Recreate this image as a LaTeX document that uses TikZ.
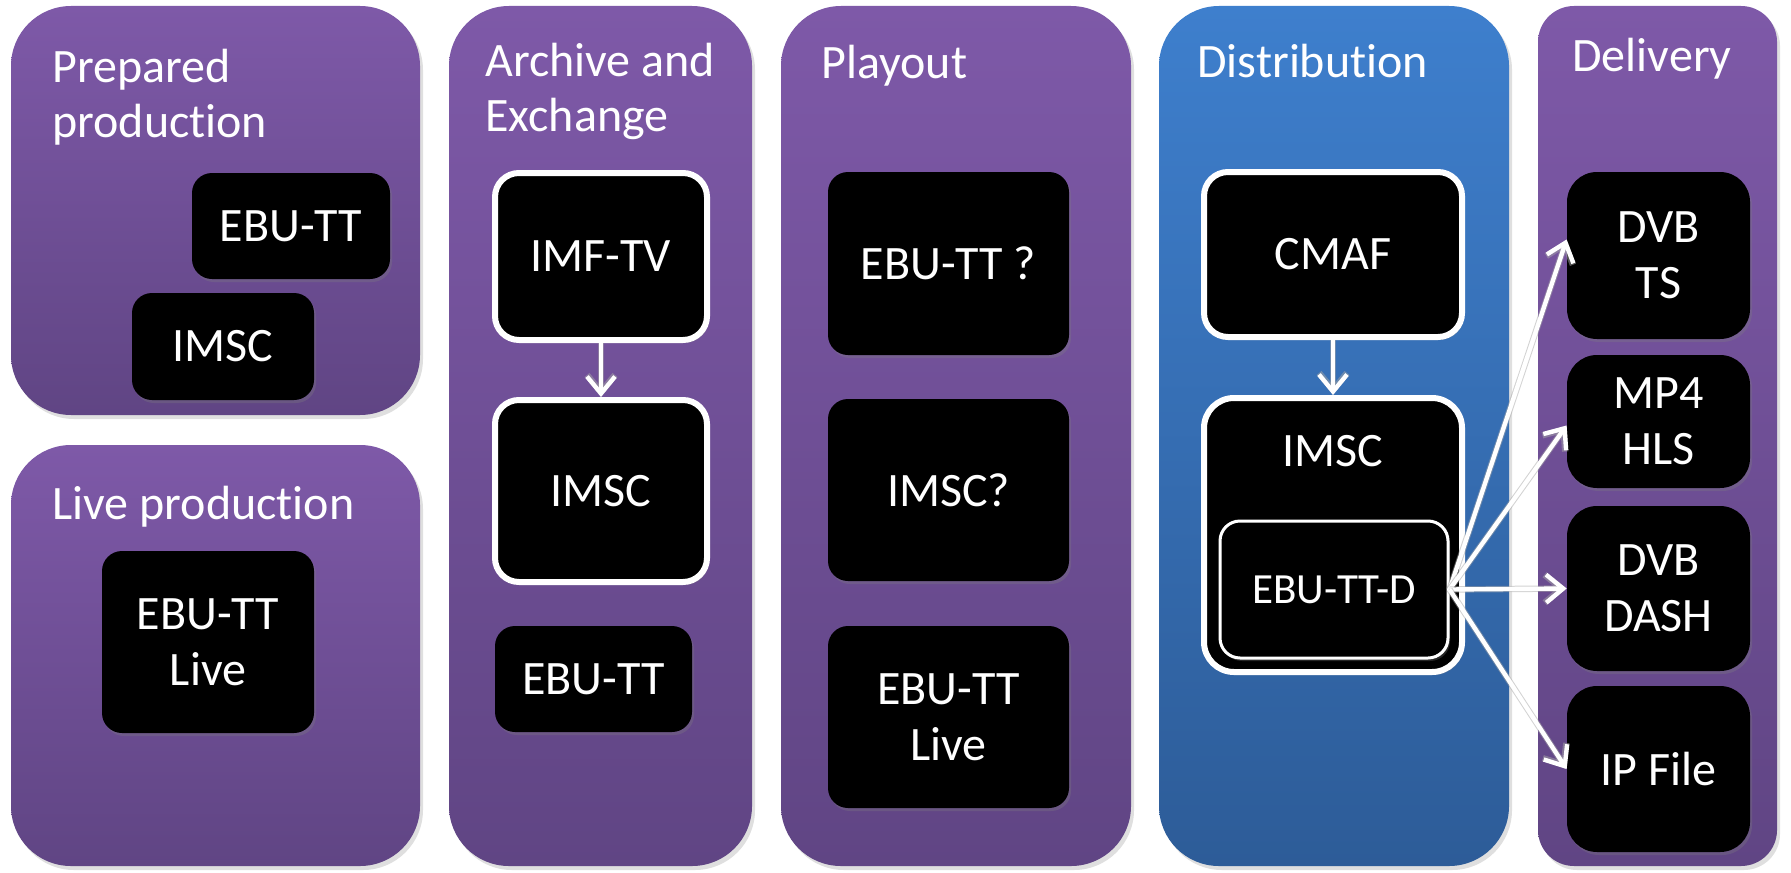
\documentclass[tikz,border=0pt]{standalone}
\usepackage{fontspec}
\setmainfont{Carlito}[Ligatures={NoCommon,NoContextual}, Contextuals=NoAlternate]
\usetikzlibrary{shadows,arrows.meta}
\definecolor{pTop}{RGB}{126,89,168}
\definecolor{pBot}{RGB}{96,69,132}
\definecolor{bTop}{RGB}{62,127,205}
\definecolor{bBot}{RGB}{45,92,152}
\newcommand{\nolig}{\kern0pt }
\tikzset{
  corners/.style n args={4}{minimum width={(#3-#1)*0.5pt}, minimum height={(#4-#2)*0.5pt},
    at={({(#1+#3)/2},{(#2+#4)/2})}, anchor=center},
  panel/.style={inner sep=0pt, rounded corners=30pt, top color=pTop, bottom color=pBot, draw=none,
    drop shadow={opacity=0.25, shadow xshift=1.5pt, shadow yshift=-2pt}},
  bluepanel/.style={panel, top color=bTop, bottom color=bBot},
  title/.style={text=white, font=\fontsize{24}{27.5}\selectfont, align=left, anchor=base west, inner sep=0pt},
  bbox/.style={fill=black, rounded corners=10pt, inner sep=0pt, text=white,
    font=\fontsize{24}{28}\selectfont, align=center,
    drop shadow={opacity=0.3, shadow xshift=1pt, shadow yshift=-1.5pt}},
  wbox/.style={bbox, draw=white, line width=3pt, rounded corners=12pt},
  dbox/.style={bbox, rounded corners=15pt},
  arr/.style={draw=white, line width=2.2pt, -{Straight Barb[length=8.5pt,width=14pt]},
    preaction={draw=gray!70, line width=3.2pt, opacity=0.5}},
}
\begin{document}
\begin{tikzpicture}[x=0.5pt, y=-0.5pt]
\useasboundingbox (0,0) rectangle (1791,872);
% panels
\node[panel, corners={11}{6}{420}{415}] (pPrep) {};
\node[panel, corners={11}{445}{420}{866}] (pLive) {};
\node[panel, corners={449}{6}{752}{866}] (pArch) {};
\node[panel, corners={781}{6}{1131}{866}] (pPlay) {};
\node[bluepanel, corners={1159}{6}{1509}{866}] (pDist) {};
\node[panel, rounded corners=18pt, corners={1538}{6}{1777}{866}] (pDeli) {};
% titles
\node[title] (tPrep) at (52,137) {Prepared\\produc\nolig tion};
\node[title] (tLive) at (52,519) {Live produc\nolig tion};
\node[title] (tArch) at (485,131) {Archive and\\Exchange};
\node[title] (tPlay) at (821,79) {Playout};
\node[title] (tDist) at (1197,78) {Distribu\nolig tion};
\node[title] (tDeli) at (1572,72) {Delivery};
% prepared production
\node[bbox, corners={192}{173}{390}{279}] (pEBU) {EBU-TT};
\node[bbox, corners={132}{293}{314}{400}] (pIMSC) {IMSC};
% live production
\node[bbox, corners={102}{551}{314}{733}] (lEBU) {EBU-TT\\Live};
% archive
\node[wbox, corners={495}{173}{707}{340}] (aIMF) {IMF-TV};
\node[wbox, corners={495}{400}{707}{582}] (aIMSC) {IMSC};
\node[bbox, corners={495}{626}{692}{732}] (aEBU) {EBU-TT};
\draw[arr] (aIMF) -- (aIMSC);
% playout
\node[bbox, corners={828}{172}{1069}{355}] (plEBU) {EBU-TT ?};
\node[bbox, corners={828}{399}{1069}{581}] (plIMSC) {IMSC?};
\node[bbox, corners={828}{626}{1069}{808}] (plLive) {EBU-TT\\Live};
% distribution
\node[wbox, corners={1204}{172}{1462}{337}] (dCMAF) {CMAF};
\node[wbox, rounded corners=15pt, corners={1204}{398}{1462}{672}] (dIMSC) {};
\node[text=white, font=\fontsize{24}{28}\selectfont, anchor=base, inner sep=0pt] (dIMSCt) at (1333,466) {IMSC};
\node[bbox, draw=white, line width=1.5pt, font=\fontsize{21.5}{25}\selectfont, drop shadow={opacity=0}, corners={1220}{521}{1448}{658}] (dEBUD) {EBU-TT-D};
\draw[arr] (dCMAF) -- (dIMSC);
% delivery
\node[dbox, corners={1567}{172}{1750}{339}] (eTS) {DVB\\TS};
\node[dbox, corners={1567}{355}{1750}{488}] (eHLS) {MP4\\HLS};
\node[dbox, corners={1567}{506}{1750}{671}] (eDASH) {DVB\\DASH};
\node[dbox, corners={1567}{686}{1750}{852}] (eIP) {IP File};
\coordinate (src) at (dEBUD.east);
\draw[arr] (src) -- ([yshift=8pt]eTS.west);
\draw[arr] (src) -- ([yshift=-2pt]eHLS.west);
\draw[arr] (src) -- (eDASH.west);
\draw[arr] (src) -- (eIP.west);
\end{tikzpicture}
\end{document}
